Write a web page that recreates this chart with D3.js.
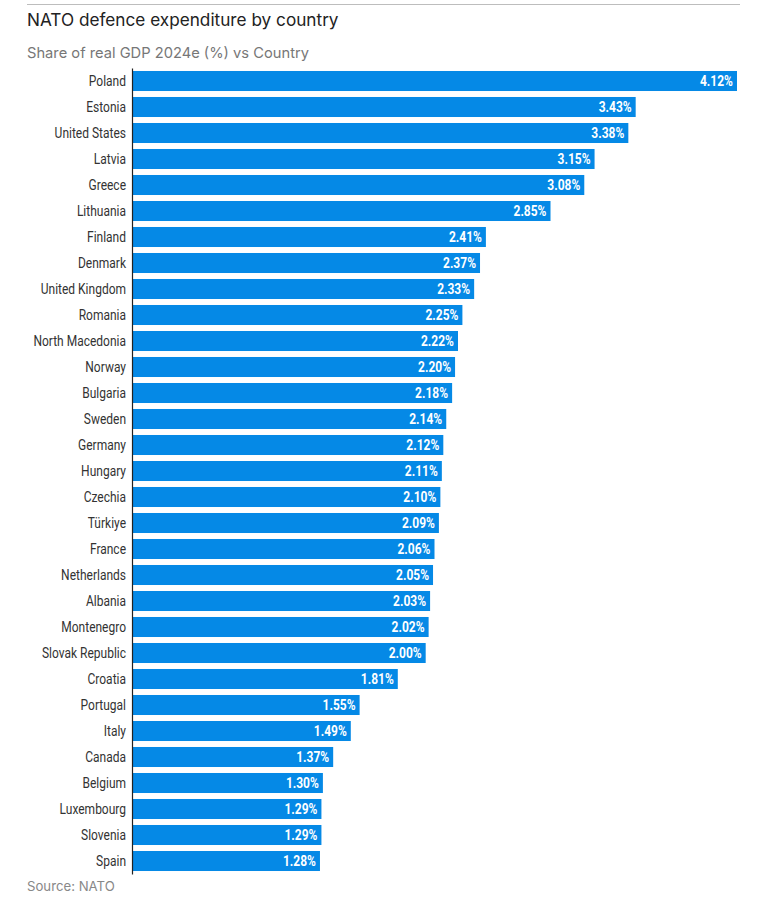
<!DOCTYPE html>
<html><head><meta charset="utf-8">
<script src="https://cdn.jsdelivr.net/npm/d3@7"></script>
<style>
body{margin:0;background:#fff;}
svg{display:block;}
</style></head>
<body>
<svg id="chart" width="780" height="901"></svg>
<script>
const countries = ["Poland","Estonia","United States","Latvia","Greece","Lithuania","Finland","Denmark","United Kingdom","Romania","North Macedonia","Norway","Bulgaria","Sweden","Germany","Hungary","Czechia","Türkiye","France","Netherlands","Albania","Montenegro","Slovak Republic","Croatia","Portugal","Italy","Canada","Belgium","Luxembourg","Slovenia","Spain"];
const values = [4.12,3.43,3.38,3.15,3.08,2.85,2.41,2.37,2.33,2.25,2.22,2.20,2.18,2.14,2.12,2.11,2.10,2.09,2.06,2.05,2.03,2.02,2.00,1.81,1.55,1.49,1.37,1.30,1.29,1.29,1.28];
const title = "NATO defence expenditure by country";
const subtitle = "Share of real GDP 2024e (%) vs Country";
const source = "Source: NATO";

const data = countries.map((c,i)=>({c, v: values[i]}));
const svg = d3.select("#chart");
const mLeft = 132, mRight = 737, mTop = 68, mBottom = 874;
const condensed = "Roboto, 'Liberation Sans', sans-serif";
const sx = 0.8;

svg.append("line").attr("x1",27).attr("x2",740).attr("y1",4.5).attr("y2",4.5)
  .attr("stroke","#bdbdbd").attr("stroke-width",1);
svg.append("text").attr("x",27).attr("y",26).text(title)
  .attr("font-family","Inter, Roboto, sans-serif").attr("font-size",17.2).attr("fill","#222");
svg.append("text").attr("x",27).attr("y",58).text(subtitle)
  .attr("font-family","Inter, Roboto, sans-serif").attr("font-size",14.7).attr("fill","#777");

const x = d3.scaleLinear().domain([0, d3.max(values)]).range([mLeft, mRight]);
const y = d3.scaleBand().domain(countries).range([mTop, mBottom]).paddingInner(0.23).paddingOuter(0.115);

svg.selectAll("rect.bar").data(data).join("rect").attr("class","bar")
  .attr("x", x(0)).attr("y", d=>y(d.c)).attr("width", d=>x(d.v)-x(0)).attr("height", y.bandwidth())
  .attr("fill","#0589e6");

const yAxis = d3.axisLeft(y).tickSize(0).tickPadding(6);
const g = svg.append("g").attr("transform",`translate(${mLeft},0)`).call(yAxis);
g.select(".domain").attr("stroke","#222").attr("stroke-width",1.2);
g.selectAll(".tick text").attr("font-family",condensed).attr("font-size",15).attr("fill","#333")
  .attr("x", -6/sx).attr("transform",`scale(${sx},1)`);

svg.selectAll("text.val").data(data).join("text").attr("class","val")
  .attr("x", d=>(x(d.v)-4)/sx).attr("y", d=>y(d.c)+y.bandwidth()/2).attr("dy","0.36em")
  .attr("transform",`scale(${sx},1)`)
  .attr("text-anchor","end").text(d=>d.v.toFixed(2)+"%")
  .attr("font-family",condensed).attr("font-weight","bold").attr("font-size",15).attr("fill","#fff");

svg.append("text").attr("x",27).attr("y",891).text(source)
  .attr("font-family","Inter, Roboto, sans-serif").attr("font-size",13.2).attr("fill","#888");
</script>
</body></html>
